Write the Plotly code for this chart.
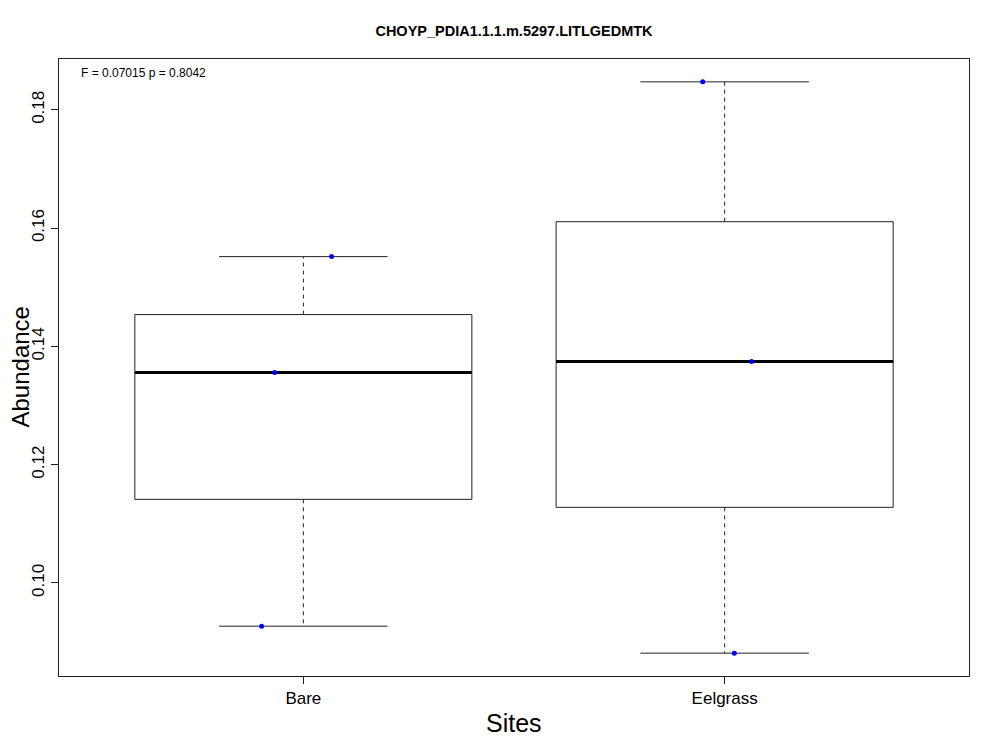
import numpy as np
import plotly.graph_objects as go

# data (3 samples per site)
sites = ["Bare", "Eelgrass"]
bare = [0.09269, 0.13558, 0.15518]
eelgrass = [0.08813, 0.13744, 0.18473]
# horizontal jitter of the overlaid points (same order as the values)
bare_jitter = [-0.099, -0.068, 0.067]
eelgrass_jitter = [0.023, 0.064, -0.052]
y_ticks = [0.10, 0.12, 0.14, 0.16, 0.18]

title = "CHOYP_PDIA1.1.1.m.5297.LITLGEDMTK"
stat_text = "F = 0.07015 p = 0.8042"

FONT = "Liberation Sans, Arial, Helvetica, sans-serif"
LINE = "#222222"


def fivenum(vals):
    # Tukey five number summary, like R's boxplot
    v = np.sort(np.asarray(vals, dtype=float))
    n = len(v)
    n4 = np.floor((n + 3) / 2) / 2
    d = np.array([1, n4, (n + 1) / 2, n + 1 - n4, n]) - 1
    return 0.5 * (v[np.floor(d).astype(int)] + v[np.ceil(d).astype(int)])


def seg(fig, xs, ys, width=1, dash="solid", color=LINE):
    fig.add_trace(go.Scatter(x=xs, y=ys, mode="lines",
                             line=dict(color=color, width=width, dash=dash),
                             hoverinfo="skip", showlegend=False))


fig = go.Figure()

groups = [(bare, bare_jitter), (eelgrass, eelgrass_jitter)]
half_box = 0.4
half_staple = 0.2

for i, (vals, jit) in enumerate(groups, start=1):
    lo, q1, med, q3, hi = fivenum(vals)
    # whiskers
    seg(fig, [i, i], [q3, hi], dash="4px,4px")
    seg(fig, [i, i], [q1, lo], dash="4px,4px")
    # staples
    seg(fig, [i - half_staple, i + half_staple], [hi, hi])
    seg(fig, [i - half_staple, i + half_staple], [lo, lo])
    # box
    seg(fig, [i - half_box, i + half_box, i + half_box, i - half_box, i - half_box],
        [q1, q1, q3, q3, q1])
    # median
    seg(fig, [i - half_box, i + half_box], [med, med], width=3, color="black")
    # points
    fig.add_trace(go.Scatter(x=[i + j for j in jit], y=vals, mode="markers",
                             marker=dict(color="#0000ff", size=5),
                             hoverinfo="skip", showlegend=False))

all_vals = bare + eelgrass
span = max(all_vals) - min(all_vals)
y_range = [min(all_vals) - 0.04 * span, max(all_vals) + 0.04 * span]

fig.update_xaxes(range=[0.42, 2.58], tickvals=[1, 2], ticktext=sites,
                 ticks="outside", ticklen=7, tickcolor=LINE,
                 showline=True, mirror=True, linecolor=LINE, linewidth=1,
                 showgrid=False, zeroline=False,
                 tickfont=dict(family=FONT, size=17, color="black"))
fig.update_yaxes(range=y_range, tickvals=y_ticks, tickformat=".2f",
                 ticks="outside", ticklen=7, tickcolor=LINE, tickangle=-90,
                 showline=True, mirror=True, linecolor=LINE, linewidth=1,
                 showgrid=False, zeroline=False,
                 tickfont=dict(family=FONT, size=17, color="black"))

# the page body adds an 8px offset, so margins are trimmed by that much
fig.update_layout(
    width=1000, height=750,
    margin=dict(l=51, r=39, t=51, b=82),
    plot_bgcolor="white", paper_bgcolor="white",
    title=dict(text="<b>" + title + "</b>", x=506 / 1000, xanchor="center",
               y=1 - 23 / 750, yanchor="middle", yref="container",
               font=dict(family=FONT, size=14.5, color="black")),
    annotations=[
        dict(text=stat_text, xref="paper", yref="paper", x=0, y=1,
             xshift=20, yshift=-14, xanchor="left", yanchor="middle",
             showarrow=False, font=dict(family=FONT, size=12, color="black")),
        dict(text="Abundance", xref="paper", yref="paper", x=0, y=0.5,
             xshift=-39, xanchor="center", yanchor="middle", textangle=-90,
             showarrow=False, font=dict(family=FONT, size=24, color="black")),
        dict(text="Sites", xref="paper", yref="paper", x=0.5, y=0,
             yshift=-47, xanchor="center", yanchor="middle",
             showarrow=False, font=dict(family=FONT, size=25, color="black")),
    ],
)

fig.write_html("out.html")
